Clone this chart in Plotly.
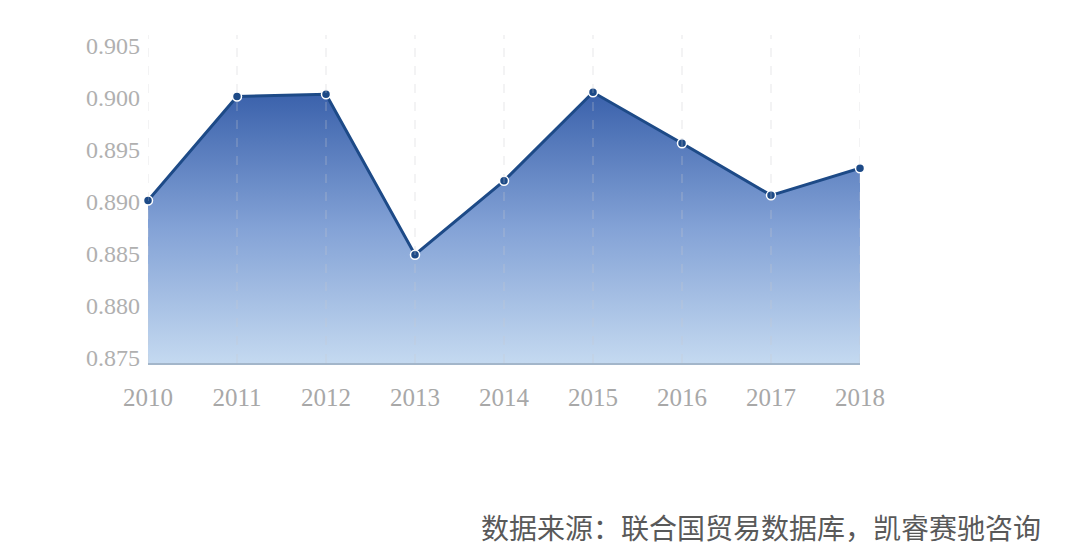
import plotly.graph_objects as go

years = [2010, 2011, 2012, 2013, 2014, 2015, 2016, 2017, 2018]
values = [0.8901, 0.9001, 0.9003, 0.8849, 0.8920, 0.9005, 0.8956, 0.8906, 0.8932]
y_ticks = [0.875, 0.880, 0.885, 0.890, 0.895, 0.900, 0.905]
source_text = "数据来源：联合国贸易数据库，凯睿赛驰咨询"

# page body has an 8px default margin, so offsets are reduced by 8
L, R, T, B = 140, 228, 27, 200
W, H = 1080, 555
y_bottom, y_top = 0.8745, 0.906

fig = go.Figure()
fig.add_trace(go.Scatter(
    x=years, y=values,
    mode="lines+markers",
    line=dict(color="#1d4a87", width=3),
    marker=dict(size=9, color="#1d4a87", line=dict(color="white", width=1.5)),
    fill="tozeroy",
    fillgradient=dict(
        type="vertical",
        start=y_bottom, stop=0.9005,
        colorscale=[[0, "#c4d9f0"], [0.5, "#83a2d6"], [1, "#3a61ab"]],
    ),
    cliponaxis=False,
    hoverinfo="skip",
))

shapes = []
for yr in years:
    shapes.append(dict(
        type="line", xref="x", yref="y", x0=yr, x1=yr, y0=y_bottom, y1=y_top,
        line=dict(color="rgba(200,200,205,0.45)", width=1, dash="dash"),
        layer="above",
    ))

fig.update_layout(
    width=W, height=H,
    margin=dict(l=L, r=R, t=T, b=B),
    paper_bgcolor="white", plot_bgcolor="white",
    showlegend=False,
    font=dict(family="Liberation Serif", color="#ababab"),
    shapes=shapes,
    xaxis=dict(
        range=[2010, 2018],
        tickvals=years,
        ticktext=[str(y) for y in years],
        tickfont=dict(size=25, color="#a8a8a8", family="Liberation Serif"),
        showgrid=False,
        showline=True, linecolor="#a3b6ca", linewidth=1.5,
        zeroline=False,
        ticks="", ticklabelstandoff=11,
    ),
    yaxis=dict(
        range=[y_bottom, y_top],
        tickvals=y_ticks,
        ticktext=[f"{v:.3f}" for v in y_ticks],
        tickfont=dict(size=24, color="#b0b0b0", family="Liberation Serif"),
        showgrid=False, zeroline=False, showline=False,
        ticks="", ticklabelstandoff=7,
    ),
    annotations=[dict(
        text=source_text, xref="paper", yref="paper",
        x=(1043 - 8 - L) / (W - L - R),
        y=1 - (527 - 8 - T) / (H - T - B),
        xanchor="right", yanchor="middle",
        showarrow=False,
        font=dict(family="Noto Sans CJK SC", size=28, color="#595959"),
    )],
)
fig.write_html("out.html")
